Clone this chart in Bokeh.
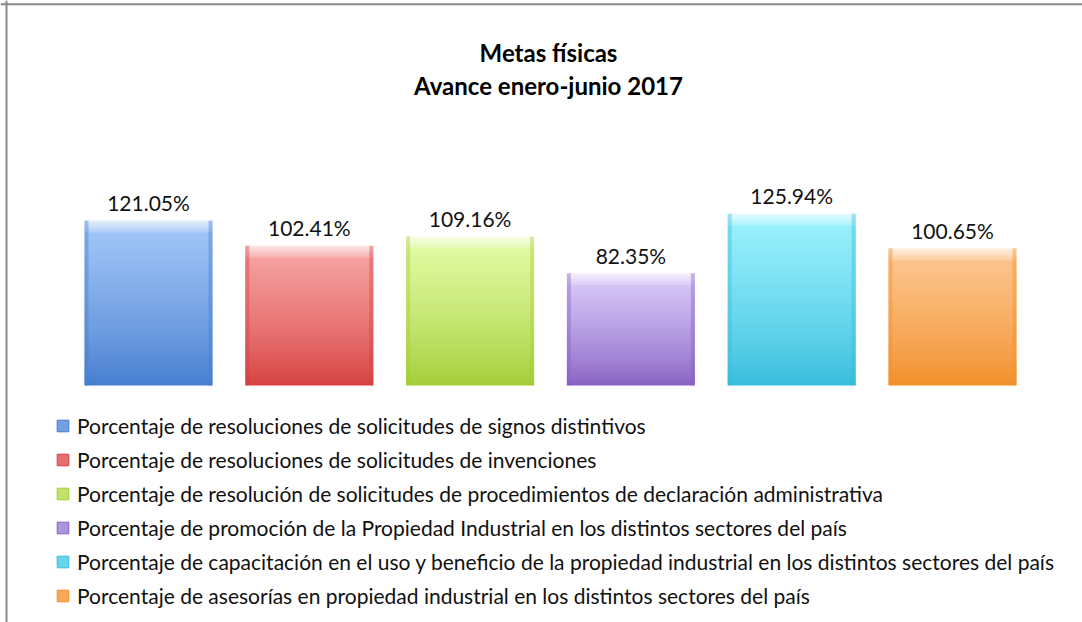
import numpy as np
from bokeh.plotting import figure
from bokeh.models import Range1d, Legend, LegendItem, Label, Span, ColumnDataSource
from bokeh.core.properties import value
from bokeh.embed import file_html
from bokeh.resources import INLINE

# ---------------- data ----------------
title_lines = ["Metas físicas", "Avance enero-junio 2017"]
categories = [
    "Porcentaje de resoluciones de solicitudes de signos distintivos",
    "Porcentaje de resoluciones de solicitudes de invenciones",
    "Porcentaje de resolución de solicitudes de procedimientos de declaración administrativa",
    "Porcentaje de promoción de la Propiedad Industrial en los distintos sectores del país",
    "Porcentaje de capacitación en el uso y beneficio de la propiedad industrial en los distintos sectores del país",
    "Porcentaje de asesorías en propiedad industrial en los distintos sectores del país",
]
values = [121.05, 102.41, 109.16, 82.35, 125.94, 100.65]
top_colors = ["#a0c4f6", "#f6a0a0", "#e0faa2", "#d4c4f6", "#98f0fc", "#fcc48c"]
bottom_colors = ["#447cce", "#d63f3f", "#a2cc34", "#8660c2", "#36bcdc", "#f28e28"]

# ---------------- layout ----------------
W, H = 1082, 622
XSCALE = 160.8          # px per category
FIRST_X_PX = 148        # px of first bar center
YSCALE = 1.364          # px per percentage point
BASE_PX = 385           # px (from top) of baseline
X_START = 1 - FIRST_X_PX / XSCALE
X_END = X_START + W / XSCALE
Y_START = -(H - BASE_PX) / YSCALE
Y_END = Y_START + H / YSCALE
BAR_W = 128 / XSCALE
FONT = "Lato"

def hex2rgb(h):
    h = h.lstrip("#")
    return np.array([int(h[i:i + 2], 16) for i in (0, 2, 4)], dtype=float)

def rgb2hex(c):
    c = np.clip(np.round(c), 0, 255).astype(int)
    return "#%02x%02x%02x" % tuple(c)

def mix(a, b, t):
    return rgb2hex(hex2rgb(a) * (1 - t) + hex2rgb(b) * t)

xs = list(range(1, len(categories) + 1))

p = figure(width=W, height=H, x_range=Range1d(X_START, X_END), y_range=Range1d(Y_START, Y_END),
           min_border=0, toolbar_location=None, output_backend="svg",
           x_axis_location=None, y_axis_location=None)
p.grid.visible = False
p.outline_line_color = None
p.background_fill_color = "white"
p.border_fill_color = "white"

# gradient bodies built from slices of each value
K = 40
bevel = 12 / YSCALE
eps = 0.9 / YSCALE
sx, sb, st, sc = [], [], [], []
for x, v, ct, cb in zip(xs, values, top_colors, bottom_colors):
    body_top = v - bevel
    for j in range(K):
        b0 = body_top * j / K
        b1 = body_top * (j + 1) / K
        t = (j + 0.5) / K
        sx.append(x); sb.append(b0); st.append(min(b1 + eps, v)); sc.append(mix(cb, ct, t ** 0.8))
    # bevel highlight band at the top
    nb = 6
    for j in range(nb):
        b0 = body_top + bevel * j / nb
        b1 = body_top + bevel * (j + 1) / nb
        t = (j + 0.5) / nb
        sx.append(x); sb.append(b0); st.append(min(b1 + eps, v)); sc.append(mix(ct, "#ffffff", 0.15 + 0.6 * t))
src = ColumnDataSource(dict(x=sx, bottom=sb, top=st, color=sc))
p.vbar(x="x", bottom="bottom", top="top", width=BAR_W, fill_color="color", line_color=None, source=src)

# side shading
edge_w = 4 / XSCALE
for side in (-1, 1):
    p.vbar(x=[x + side * (BAR_W / 2 - edge_w / 2) for x in xs], bottom=0, top=values, width=edge_w,
           fill_color=bottom_colors, fill_alpha=0.4, line_color=None)

# data labels
lbl = ColumnDataSource(dict(x=xs, y=values, text=["%.2f%%" % v for v in values]))
p.text(x="x", y="y", text="text", source=lbl, text_align="center", text_baseline="alphabetic",
       y_offset=-18, text_font=value(FONT), text_font_size="21px", text_color="#111111")

# title
xc = X_START + 548 / XSCALE
for line, ypx in zip(title_lines, (52, 85)):
    p.add_layout(Label(x=xc, y=Y_END - ypx / YSCALE, text=line, text_align="center",
                       text_baseline="alphabetic", text_font=FONT, text_font_size="24px",
                       text_font_style="bold", text_color="#000000"))

# border (top / left)
p.add_layout(Span(location=Y_END - 3.7 / YSCALE, dimension="width", line_color="#8a8a8a", line_width=2))
p.add_layout(Span(location=X_START + 6 / XSCALE, dimension="height", line_color="#8a8a8a", line_width=2))

# legend (zero-size markers, drawn only in legend)
mid_colors = [mix(b, t, 0.5) for b, t in zip(bottom_colors, top_colors)]
lsrc = ColumnDataSource(dict(x=xs, y=[0] * len(xs), color=mid_colors, line=bottom_colors))
lr = p.scatter(x="x", y="y", marker="square", size=0, fill_color="color", line_color="line",
               line_width=1, source=lsrc)
items = [LegendItem(label=c, renderers=[lr], index=i) for i, c in enumerate(categories)]
legend = Legend(items=items, location=(48, 12), orientation="vertical",
                glyph_width=29, glyph_height=29, label_height=29, spacing=5, label_standoff=-5,
                padding=0, margin=0, border_line_color=None, background_fill_alpha=0,
                label_text_font=FONT, label_text_font_size="21px", label_text_color="#111111")
p.add_layout(legend, "center")

open("out.html", "w").write(file_html(p, INLINE))
